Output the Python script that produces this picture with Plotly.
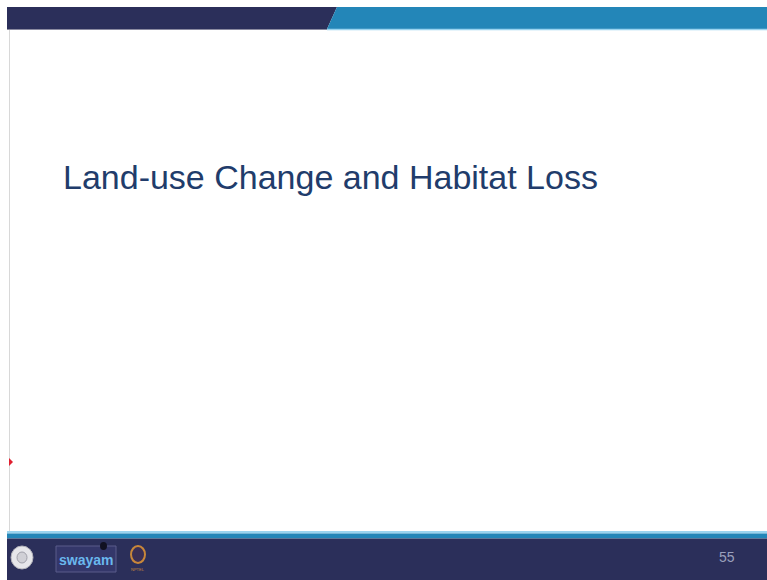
import plotly.graph_objects as go

# Slide content
title_text = ["Land-use Change and Habitat Loss"]
page_number = ["55"]
logo_labels = ["swayam", "NPTEL"]

W, H = 767, 580
NAVY = "#2b2f5a"
BLUE = "#2386b8"
LIGHT = "#9ad4ef"
TITLE_COLOR = "#213c6b"

fig = go.Figure()
fig.add_trace(go.Scatter(x=[0, W], y=[0, H], mode="markers",
                         marker=dict(opacity=0), hoverinfo="skip", showlegend=False))

shapes = []
def poly(pts, color):
    path = "M " + " L ".join(f"{x},{y}" for x, y in pts) + " Z"
    shapes.append(dict(type="path", path=path, xref="x", yref="y",
                       fillcolor=color, line=dict(width=0), layer="above"))

# top bar
poly([(7, 7), (337, 7), (327, 29), (7, 29)], NAVY)
poly([(337, 7), (W + 2, 7), (W + 2, 29), (327, 29)], BLUE)
shapes.append(dict(type="line", x0=327, x1=W + 2, y0=29.5, y1=29.5, xref="x", yref="y",
                   line=dict(color=LIGHT, width=1.5)))
shapes.append(dict(type="line", x0=7, x1=327, y0=29.5, y1=29.5, xref="x", yref="y",
                   line=dict(color="#8a8aa0", width=1)))
# left border line
shapes.append(dict(type="line", x0=9.5, x1=9.5, y0=30, y1=531, xref="x", yref="y",
                   line=dict(color="#d8d8d8", width=1)))
# bottom bars
poly([(7, 531), (W + 2, 531), (W + 2, 533.5), (7, 533.5)], LIGHT)
poly([(7, 533.5), (W + 2, 533.5), (W + 2, 538.5), (7, 538.5)], BLUE)
poly([(7, 538.5), (W + 2, 538.5), (W + 2, H + 2), (7, H + 2)], NAVY)
# red pointer
poly([(9, 458), (13, 462), (9, 466)], "#e02030")

# logo 1: emblem circle
shapes.append(dict(type="circle", x0=11, x1=33, y0=546, y1=569, xref="x", yref="y",
                   fillcolor="#e6e6ea", line=dict(color="#b0b0b8", width=1), layer="above"))
shapes.append(dict(type="circle", x0=17, x1=27, y0=552, y1=563, xref="x", yref="y",
                   fillcolor="#d0d0d6", line=dict(color="#a0a0aa", width=1), layer="above"))
# logo 2: swayam box
shapes.append(dict(type="rect", x0=56, x1=116, y0=546, y1=572, xref="x", yref="y",
                   fillcolor="#34376a", line=dict(color="#5a5d8a", width=1), layer="above"))
shapes.append(dict(type="circle", x0=100, x1=107, y0=542, y1=550, xref="x", yref="y",
                   fillcolor="#111122", line=dict(width=0), layer="above"))
# logo 3: nptel ring
shapes.append(dict(type="circle", x0=131, x1=145, y0=546, y1=563, xref="x", yref="y",
                   fillcolor="#3a2f55", line=dict(color="#c8873a", width=2), layer="above"))

fig.update_layout(shapes=shapes)

ann = []
ann.append(dict(x=61, y=177, xref="x", yref="y", text=title_text[0], showarrow=False,
                xanchor="left", yanchor="middle",
                font=dict(family="Liberation Sans Narrow, Arial Narrow, Liberation Sans", size=34,
                          color=TITLE_COLOR)))
ann.append(dict(x=727, y=557, xref="x", yref="y", text=page_number[0], showarrow=False,
                xanchor="center", yanchor="middle",
                font=dict(family="Liberation Sans", size=14, color="#9aa0bc")))
ann.append(dict(x=86, y=560, xref="x", yref="y", text="<b>" + logo_labels[0] + "</b>", showarrow=False,
                xanchor="center", yanchor="middle",
                font=dict(family="Liberation Sans", size=14, color="#6ab8ee")))
ann.append(dict(x=138, y=569, xref="x", yref="y", text=logo_labels[1], showarrow=False,
                xanchor="center", yanchor="middle",
                font=dict(family="Liberation Sans", size=4, color="#c8873a")))
fig.update_layout(annotations=ann)

fig.update_layout(
    width=W, height=H, margin=dict(l=0, r=0, t=0, b=0),
    paper_bgcolor="white", plot_bgcolor="white",
    xaxis=dict(range=[0, W], visible=False, fixedrange=True),
    yaxis=dict(range=[H, 0], visible=False, fixedrange=True),
    showlegend=False,
)
fig.write_html("out.html", config={"displayModeBar": False, "staticPlot": True},
               post_script="document.body.style.margin='0';document.body.style.overflow='hidden';")
